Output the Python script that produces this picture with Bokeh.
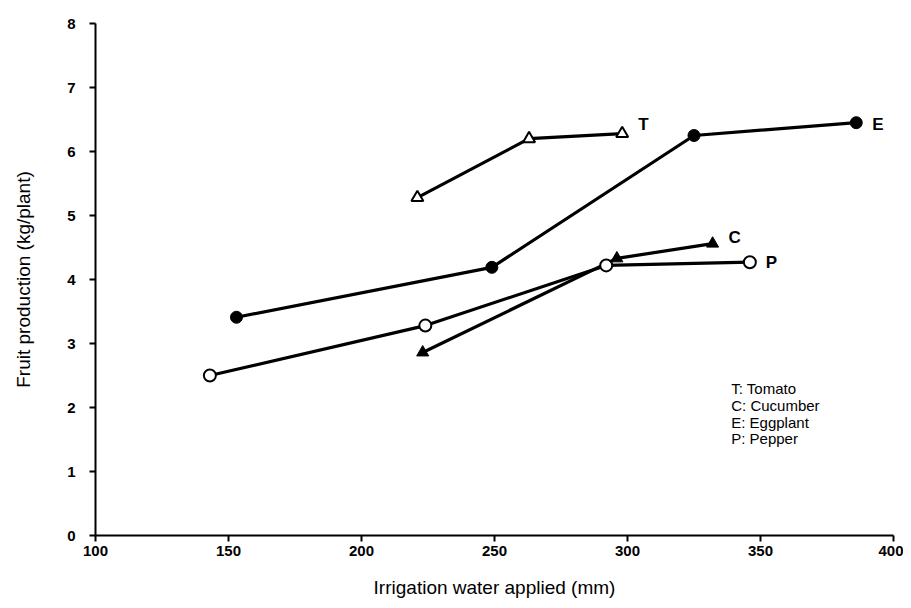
from bokeh.plotting import figure
from bokeh.models import Range1d, FixedTicker, Label
from bokeh.core.properties import value
from bokeh.embed import file_html
from bokeh.resources import INLINE

# ---- data ----
tomato_x = [221, 263, 298]
tomato_y = [5.28, 6.20, 6.28]
cucumber_x = [223, 296, 332]
cucumber_y = [2.86, 4.33, 4.56]
eggplant_x = [153, 249, 325, 386]
eggplant_y = [3.41, 4.19, 6.25, 6.45]
pepper_x = [143, 224, 292, 346]
pepper_y = [2.50, 3.28, 4.22, 4.27]

x_ticks = [100, 150, 200, 250, 300, 350, 400]
y_ticks = [0, 1, 2, 3, 4, 5, 6, 7, 8]
series_labels = ["T", "C", "E", "P"]
legend_lines = ["T: Tomato", "C: Cucumber", "E: Eggplant", "P: Pepper"]

FONT = "Liberation Sans"

p = figure(width=903, height=600, output_backend="svg", toolbar_location=None,
           x_range=Range1d(100, 400), y_range=Range1d(0, 8),
           min_border_left=95, min_border_right=10, min_border_top=23, min_border_bottom=40)
p.outline_line_color = None
p.xgrid.visible = False
p.ygrid.visible = False

for ax in (p.xaxis[0], p.yaxis[0]):
    ax.axis_line_width = 2
    ax.axis_line_color = "black"
    ax.major_tick_line_width = 2
    ax.major_tick_line_color = "black"
    ax.major_tick_out = 6
    ax.major_tick_in = 0
    ax.minor_tick_line_color = None
    ax.major_label_text_font = FONT
    ax.major_label_text_font_style = "bold"
    ax.major_label_text_font_size = "15px"
    ax.major_label_text_color = "black"
    ax.axis_label_text_font = FONT
    ax.axis_label_text_font_style = "normal"
    ax.axis_label_text_font_size = "19px"
    ax.axis_label_text_color = "black"

p.xaxis.ticker = FixedTicker(ticks=x_ticks)
p.yaxis.ticker = FixedTicker(ticks=y_ticks)
p.xaxis.axis_label = "Irrigation water applied (mm)"
p.yaxis.axis_label = "Fruit production (kg/plant)"
p.xaxis.major_label_standoff = 4
p.yaxis.major_label_standoff = 14
p.xaxis.axis_label_standoff = 18
p.yaxis.axis_label_standoff = 30

LW = 3.2
MS = 12

# lines
p.line(tomato_x, tomato_y, line_color="black", line_width=LW)
p.line(eggplant_x, eggplant_y, line_color="black", line_width=LW)
p.line(pepper_x, pepper_y, line_color="black", line_width=LW)
p.line(cucumber_x, cucumber_y, line_color="black", line_width=LW)

# markers
p.scatter(tomato_x, tomato_y, marker="triangle", size=MS, fill_color="white",
          line_color="black", line_width=2)
p.scatter(eggplant_x, eggplant_y, marker="circle", size=MS, fill_color="black",
          line_color="black", line_width=1)
p.scatter(pepper_x, pepper_y, marker="circle", size=MS, fill_color="white",
          line_color="black", line_width=2)
p.scatter(cucumber_x, cucumber_y, marker="triangle", size=MS, fill_color="black",
          line_color="black", line_width=1)

# series end labels
ends = [(tomato_x, tomato_y, -9), (cucumber_x, cucumber_y, -6),
        (eggplant_x, eggplant_y, 2), (pepper_x, pepper_y, 0)]
for lab, (xs, ys, dy) in zip(series_labels, ends):
    p.text(x=[xs[-1]], y=[ys[-1]], text=[lab], x_offset=16, y_offset=dy,
           text_font=value(FONT), text_font_style="bold", text_font_size="17px",
           text_baseline="middle", text_align="left", text_color="black")

# key text
key_y = [2.30, 2.03, 1.77, 1.52]
for line, ky in zip(legend_lines, key_y):
    p.add_layout(Label(x=339, y=ky, text=line, text_font=FONT, text_font_size="15px",
                       text_baseline="middle", text_align="left", text_color="black"))

open("out.html", "w").write(file_html(p, INLINE))
